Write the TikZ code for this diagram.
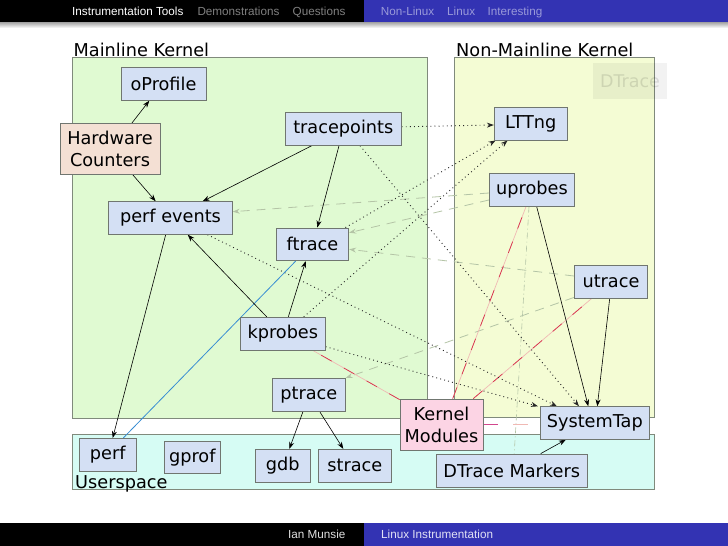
\documentclass[tikz,border=0pt]{standalone}
\usepackage{fontspec}
\setmainfont{DejaVu Sans}
\newfontfamily\hdrfont{Liberation Sans}
\usetikzlibrary{arrows.meta,calc}
\pgfdeclarelayer{bg}
\pgfdeclarelayer{edges}
\pgfsetlayers{bg,edges,main}
\definecolor{mlgreen}{RGB}{224,250,210}
\definecolor{nmyellow}{RGB}{244,252,212}
\definecolor{uscyan}{RGB}{214,252,244}
\definecolor{nodeblue}{RGB}{212,224,244}
\definecolor{hcpeach}{RGB}{244,224,212}
\definecolor{kmpink}{RGB}{252,212,228}
\definecolor{boxgray}{RGB}{112,118,112}
\definecolor{grpgray}{RGB}{128,138,124}
\definecolor{beamerblue}{RGB}{51,51,179}
\definecolor{dashgray}{RGB}{180,196,166}
\definecolor{redline}{RGB}{215,50,75}
\definecolor{pinkline}{RGB}{240,185,180}
\definecolor{magline}{RGB}{210,70,140}
\definecolor{edgeblue}{RGB}{55,140,210}
\begin{document}
\begin{tikzpicture}[x=1pt,y=-1pt,
  box/.style={draw=boxgray, line width=0.8pt, fill=nodeblue, inner sep=0pt,
    font=\fontsize{17.7}{21.8}\selectfont, align=center},
  faded/.style={fill=black, fill opacity=0.05, text=black, text opacity=0.11,
    inner sep=0pt, minimum width=74.6pt, minimum height=35.7pt, font=\fontsize{17.5}{21.8}\selectfont},
  grp/.style={draw=grpgray, line width=0.8pt},
  grplabel/.style={inner sep=0pt, font=\fontsize{17.7}{21}\selectfont},
  hdr/.style={inner sep=0pt, font=\hdrfont\fontsize{11.7}{14}\selectfont},
  arr/.style={-{Stealth[length=7pt,width=5pt]}, line width=0.6pt, black},
  dotarr/.style={-{Stealth[length=7pt,width=5pt]}, line width=0.9pt, black!85,
    dash pattern=on 0.9pt off 3.2pt},
  grayarr/.style={-{Stealth[length=7pt,width=5pt]}, line width=0.8pt, dashgray,
    dash pattern=on 9pt off 7pt},
  graydd/.style={line width=0.6pt, dashgray, dash pattern=on 6pt off 3pt on 1pt off 3pt},
  redl/.style={draw=pinkline, line width=0.7pt,
    postaction={draw=redline, dash pattern=on 12pt off 14pt}},
  kmstap/.style={draw=pinkline, line width=0.9pt, dash pattern=on 15pt off 15pt,
    postaction={draw=magline, dash pattern=on 15pt off 45pt}},
  blueline/.style={draw=edgeblue, line width=0.8pt}
]
\useasboundingbox (0,0) rectangle (728,546);

\begin{pgfonlayer}{bg}
  \fill[white] (0,0) rectangle (728,546);
  \shade[top color=black!40, bottom color=white] (0,21.5) rectangle (728,28);
  \fill[black] (0,0) rectangle (364,21.5);
  \fill[beamerblue] (364,0) rectangle (728,21.5);
  \fill[black] (0,523) rectangle (364,546);
  \fill[beamerblue] (364,523) rectangle (728,546);
  \draw[grp, fill=mlgreen] (72.3,57.3) rectangle (427.3,418);
  \draw[grp, fill=nmyellow] (454.7,57.3) rectangle (654.3,417.7);
  \draw[grp, fill=uscyan] (72.3,434) rectangle (654.3,489.3);
\end{pgfonlayer}

\node[hdr, anchor=base west, text=white] (h1) at (72,15) {Instrumentation Tools};
\node[hdr, anchor=base west, text=black!50] (h2) at (197.3,15) {Demonstrations};
\node[hdr, anchor=base west, text=black!50] (h3) at (292.5,15) {Questions};
\node[hdr, anchor=base west, text={rgb,255:red,153;green,153;blue,217}] (h4) at (380.7,15) {Non-Linux};
\node[hdr, anchor=base west, text={rgb,255:red,153;green,153;blue,217}] (h5) at (447,15) {Linux};
\node[hdr, anchor=base west, text={rgb,255:red,153;green,153;blue,217}] (h6) at (487.5,15) {Interesting};
\node[hdr, anchor=base west, text=black!12] (f1) at (288,538) {Ian Munsie};
\node[hdr, anchor=base west, text={rgb,255:red,225;green,225;blue,245}] (f2) at (381,538) {Linux Instrumentation};

\node[grplabel, anchor=base west] (mlLabel) at (73.5,56) {Mainline Kernel};
\node[grplabel, anchor=base west] (nmLabel) at (456,56) {Non-Mainline Kernel};
\node[grplabel, anchor=base west] (usLabel) at (75,488.5) {Userspace};

\node[faded] (dtrace) at (630,81.2) {DTrace};
\node[box, minimum width=85pt, minimum height=33pt] (oprofile) at (163.5,83.8) {oProfile};
\node[box, fill=hcpeach, minimum width=100pt, minimum height=50.6pt] (hc) at (110,149) {Hardware\\Counters};
\node[box, minimum width=116pt, minimum height=33pt] (tracepoints) at (343.3,128.8) {tracepoints};
\node[box, minimum width=73pt, minimum height=32.7pt] (lttng) at (530.8,123.7) {LTTng};
\node[box, minimum width=85.4pt, minimum height=32.6pt] (uprobes) at (532,190) {uprobes};
\node[box, minimum width=123.6pt, minimum height=32.6pt] (perfev) at (170.5,218) {perf events};
\node[box, minimum width=72.4pt, minimum height=32.7pt] (ftrace) at (312.5,244.3) {ftrace};
\node[box, minimum width=73.4pt, minimum height=32.7pt] (utrace) at (611,281.7) {utrace};
\node[box, minimum width=85pt, minimum height=33pt] (kprobes) at (282.8,333.8) {kprobes};
\node[box, minimum width=73pt, minimum height=33.4pt] (ptrace) at (308.8,395) {ptrace};
\node[box, fill=kmpink, minimum width=83pt, minimum height=51pt] (km) at (441.5,424.5) {Kernel\\Modules};
\node[box, minimum width=108.3pt, minimum height=32.6pt] (stap) at (594.8,423) {SystemTap};
\node[box, minimum width=56.7pt, minimum height=32.7pt] (perf) at (107.7,454.7) {perf};
\node[box, minimum width=56.7pt, minimum height=32.7pt] (gprof) at (192.3,457.3) {gprof};
\node[box, minimum width=55.7pt, minimum height=33pt] (gdb) at (282.8,465.8) {gdb};
\node[box, minimum width=73pt, minimum height=33pt] (strace) at (354.8,465.8) {strace};
\node[box, minimum width=151.3pt, minimum height=33pt] (dtm) at (511.7,470.5) {DTrace Markers};

\begin{pgfonlayer}{edges}
  \draw[grayarr] ($(uprobes.west)+(0,3)$) -- ($(perfev.east)+(0,-6.3)$);
  \draw[grayarr] ($(uprobes.west)+(0,10)$) -- ($(ftrace.east)+(0,-11.6)$);
  \draw[grayarr] ($(utrace.west)+(0,-5.7)$) -- ($(ftrace.east)+(0,5)$);
  \draw[grayarr] ($(utrace.south west)+(0,-1)$) -- (ptrace.north east);
  \draw[graydd] ($(uprobes.south)+(-3,0)$) -- ($(dtm.north)+(2.5,0)$);
  \draw[redl] ($(km.north west)+(0,1)$) -- ($(kprobes.south)+(30.5,0)$);
  \draw[redl] ($(km.north)+(11.2,0)$) -- ($(uprobes.south)+(-6,0)$);
  \draw[redl] ($(km.north)+(31.8,0)$) -- ($(utrace.south)+(-19.3,0)$);
  \draw[kmstap] ($(km.east)+(0,-0.5)$) -- ($(stap.west)+(0,1)$);
  \draw[dotarr] ($(tracepoints.east)+(0,-2)$) -- ($(lttng.west)+(0,1.3)$);
  \draw[dotarr] ($(ftrace.north east)+(-3.7,0)$) -- ($(lttng.south west)+(1.7,0)$);
  \draw[dotarr] ($(kprobes.north east)+(-22,0)$) -- ($(lttng.south west)+(13.7,0)$);
  \draw[dotarr] ($(tracepoints.south)+(16.7,0)$) -- ($(stap.north)+(-15.8,0)$);
  \draw[dotarr] ($(perfev.south east)+(-25.3,0)$) -- ($(stap.north)+(-37.8,0)$);
  \draw[dotarr] ($(kprobes.east)+(0,12.9)$) -- ($(stap.north)+(-56.8,0)$);
  \draw[blueline] ($(perf.north)+(15.6,0)$) -- ($(ftrace.south)+(-16.8,0)$);
  \draw[arr] ($(hc.north)+(21.7,0)$) -- ($(oprofile.south)+(-14.2,0)$);
  \draw[arr] ($(hc.south)+(22.7,0)$) -- ($(perfev.north)+(-14.8,0)$);
  \draw[arr] ($(tracepoints.south)+(-31.6,0)$) -- ($(perfev.north)+(32.2,0)$);
  \draw[arr] ($(tracepoints.south)+(-4.3,0)$) -- ($(ftrace.north)+(4.8,0)$);
  \draw[arr] ($(kprobes.north)+(-16,0)$) -- ($(perfev.south)+(17.2,0)$);
  \draw[arr] ($(kprobes.north)+(5.5,0)$) -- ($(ftrace.south)+(-6.8,0)$);
  \draw[arr] ($(perfev.south)+(-4.8,0)$) -- ($(perf.north)+(5,0)$);
  \draw[arr] ($(ptrace.south)+(-6,0)$) -- ($(gdb.north)+(6.5,0)$);
  \draw[arr] ($(ptrace.south)+(11.2,0)$) -- ($(strace.north)+(-11.5,0)$);
  \draw[arr] ($(uprobes.south)+(4.7,0)$) -- ($(stap.north)+(-6.5,0)$);
  \draw[arr] ($(utrace.south)+(-1.3,0)$) -- ($(stap.north)+(2.5,0)$);
  \draw[arr] ($(dtm.north)+(29,0)$) -- ($(stap.south)+(-29,0)$);
\end{pgfonlayer}
\end{tikzpicture}
\end{document}
